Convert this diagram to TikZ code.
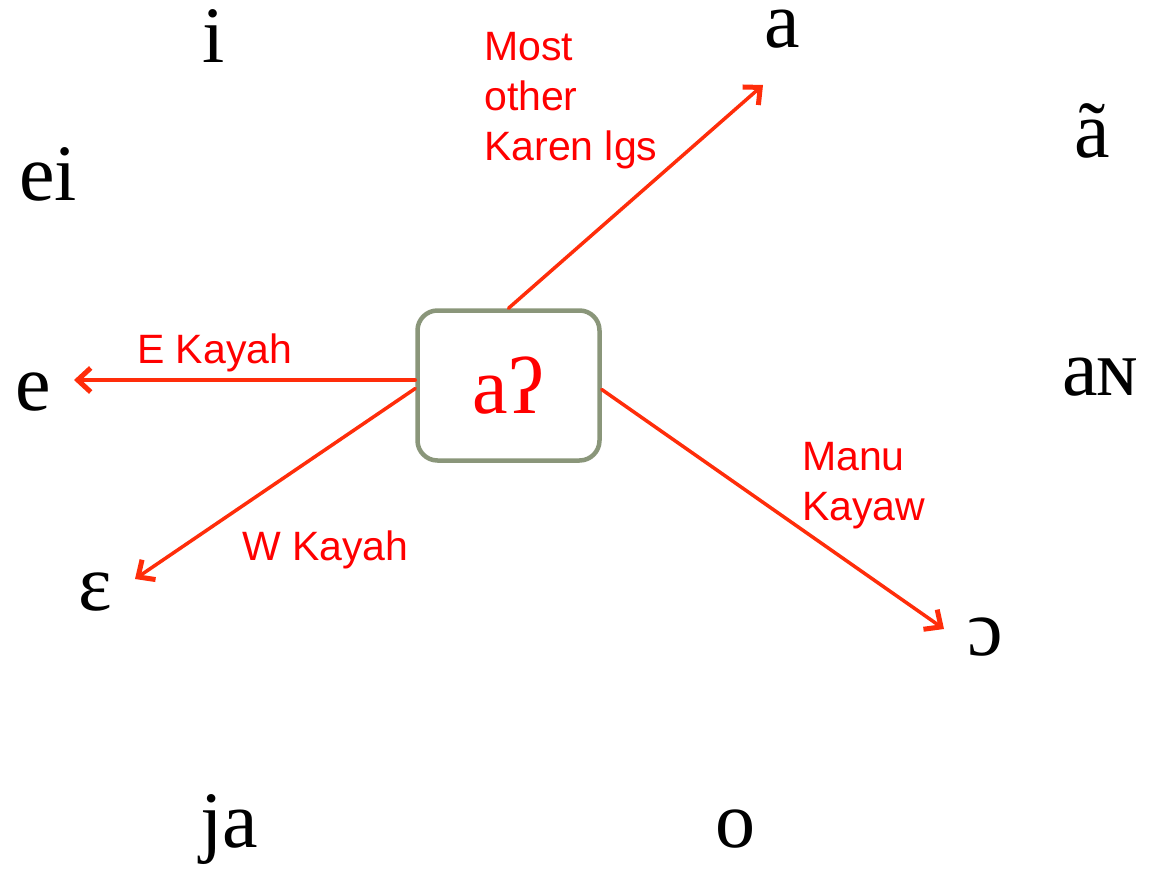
\documentclass[tikz,border=0pt]{standalone}
\usepackage{fontspec}
\setmainfont{Liberation Serif}
\newfontfamily\labelfont{Liberation Sans}
\usetikzlibrary{arrows.meta}
\definecolor{arrowred}{RGB}{255,45,10}
\definecolor{boxgrey}{RGB}{138,150,122}
\begin{document}
\begin{tikzpicture}[x=1pt,y=-1pt]
\tikzstyle{every node}+=[inner sep=0pt]
\tikzstyle{vowel}=[font=\fontsize{80}{96}\selectfont, anchor=base]
\tikzstyle{lgs}=[font=\labelfont\fontsize{41}{50}\selectfont, text=red, align=left, anchor=base west]
\tikzstyle{change}=[draw=arrowred, line width=3.5pt, line cap=round, -{Straight Barb[length=13pt,width=24pt,line width=5pt]}]
\useasboundingbox (0,0) rectangle (1149,868);
\node [vowel, draw=boxgrey, line width=4.5pt, rounded corners=20pt, minimum width=182pt, minimum height=150pt, anchor=center, text=red] (src) at (508.5,385.5) {aʔ};
\node [vowel] (i) at (214,62) {i};
\node [vowel] (a) at (782,47) {a};
\node [vowel] (ei) at (48,200) {ei};
\node [vowel] (atil) at (1092,157) {ã};
\node [vowel] (e) at (33,410) {e};
\node [vowel] (aN) at (1100,395) {aɴ};
\node [vowel] (eps) at (95,610) {ɛ};
\node [vowel] (oo) at (985,655) {ɔ};
\node [vowel] (ja) at (229,847) {ja};
\node [vowel] (o) at (735,847) {o};
\coordinate (aTip) at (763,85);
\coordinate (eTip) at (74,380);
\coordinate (epsTip) at (135,579);
\coordinate (ooTip) at (944,629);
\draw [change] (src.north) -- (aTip);
\draw [change] (src.west |- eTip) -- (eTip);
\draw [change] ([yshift=-3pt]src.west) -- (epsTip);
\draw [change] ([yshift=-4pt]src.east) -- (ooTip);
\node [lgs] (most) at (484,160) {Most\\other\\Karen lgs};
\node [lgs] (ekayah) at (137,363) {E Kayah};
\node [lgs] (wkayah) at (242,560) {W Kayah};
\node [lgs] (manu) at (802,520) {Manu\\Kayaw};
\end{tikzpicture}
\end{document}
